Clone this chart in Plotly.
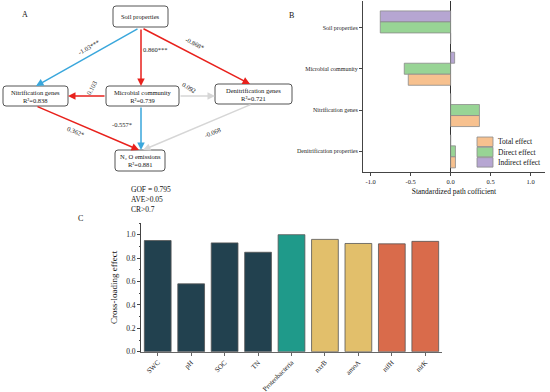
import plotly.graph_objects as go

FONT = "Liberation Serif"

# ---------------- Panel B data ----------------
b_categories = ["Soil properties", "Microbial community", "Nitrification genes", "Denitrification properties"]
b_indirect = [-0.88, 0.05, 0.0, 0.0]
b_direct = [-0.88, -0.58, 0.36, 0.06]
b_total = [0.0, -0.53, 0.36, 0.06]
b_series = ["Indirect effect", "Direct effect", "Total effect"]
b_colors = ["#B6A6D2", "#98D495", "#F7C18F"]

# ---------------- Panel C data ----------------
c_categories = ["SWC", "pH", "SOC", "TN", "Proteobacteria", "nxrB", "amoA", "nifH", "nirK"]
c_values = [0.95, 0.58, 0.93, 0.85, 1.00, 0.96, 0.925, 0.922, 0.943]
c_colors = ["#22414F", "#22414F", "#22414F", "#22414F", "#1F9A8A",
            "#E2BF6B", "#E2BF6B", "#D96B4B", "#D96B4B"]

# ---------------- Panel A (path diagram) ----------------
node_labels = ["Soil properties", "Nitrification genes<br>R²=0.838", "Microbial community<br>R²=0.739",
               "Denitrification genes<br>R²=0.721", "N₂ O emissions<br>R²=0.881"]
# box extents (x0, y0, x1, y1) in diagram units
node_boxes = [(113, 6, 168, 27), (3, 86, 68, 106), (106, 86, 179, 106),
              (215, 84, 292, 104), (115, 150, 165, 171)]
edge_start = [(139, 28), (141, 28), (142, 28), (106, 96), (179, 96), (141, 106), (36, 106), (252, 104)]
edge_end = [(36, 86), (141, 86), (250, 84), (68, 96), (215, 96), (141, 150), (139, 150), (143, 150)]
edge_colors = ["#3AA7DC", "#E8211C", "#E8211C", "#E8211C", "#D6D6D6", "#3AA7DC", "#E8211C", "#D6D6D6"]
edge_labels = ["-1.03***", "0.860***", "-0.868*", "0.103", "0.092", "-0.557*", "0.362*", "-0.068"]
label_pos = [(88, 47), (155, 49), (195, 43), (91, 88), (189, 87), (122, 124), (76, 131), (212, 132)]
label_angle = [-29, 0, 27, -62, 30, 0, 22, -22]
fit_lines = ["GOF = 0.795", "AVE>0.05", "CR>0.7"]

fig = go.Figure()

# Panel B bars (reversed y axis: first trace on top)
for name, vals, col in zip(b_series, [b_indirect, b_direct, b_total], b_colors):
    fig.add_trace(go.Bar(y=b_categories, x=vals, orientation="h", name=name, showlegend=False,
                         marker=dict(color=col, line=dict(color="#8A8A8A", width=0.8)),
                         xaxis="x", yaxis="y", width=0.267))

# Panel C bars
fig.add_trace(go.Bar(x=c_categories, y=c_values, marker=dict(color=c_colors, line=dict(color="#555555", width=0.8)),
                     xaxis="x2", yaxis="y2", width=0.8, showlegend=False))

shapes = []
annotations = []

def rounded(x0, y0, x1, y1, r=3):
    return (f"M {x0+r},{y0} L {x1-r},{y0} Q {x1},{y0} {x1},{y0+r} L {x1},{y1-r} "
            f"Q {x1},{y1} {x1-r},{y1} L {x0+r},{y1} Q {x0},{y1} {x0},{y1-r} "
            f"L {x0},{y0+r} Q {x0},{y0} {x0+r},{y0} Z")

for (x0, y0, x1, y1), lab in zip(node_boxes, node_labels):
    shapes.append(dict(type="path", path=rounded(x0, y0, x1, y1), xref="x3", yref="y3",
                       line=dict(color="#555555", width=1), fillcolor="white", layer="below"))
    annotations.append(dict(x=(x0 + x1) / 2, y=(y0 + y1) / 2, xref="x3", yref="y3", text=lab,
                            showarrow=False, font=dict(family=FONT, size=6.5, color="#111"),
                            align="center"))

for s, e, col in zip(edge_start, edge_end, edge_colors):
    annotations.append(dict(x=e[0], y=e[1], ax=s[0], ay=s[1], xref="x3", yref="y3",
                            axref="x3", ayref="y3", text="", showarrow=True, arrowhead=2,
                            arrowsize=1, arrowwidth=1.5, arrowcolor=col, standoff=0, startstandoff=0))

for lab, (lx, ly), ang in zip(edge_labels, label_pos, label_angle):
    annotations.append(dict(x=lx, y=ly, xref="x3", yref="y3", text=lab, showarrow=False,
                            textangle=ang, font=dict(family=FONT, size=6.5, color="#222")))

annotations.append(dict(x=129, y=183, xref="x3", yref="y3", text="<br>".join(fit_lines), showarrow=False,
                        xanchor="left", yanchor="top", align="left",
                        font=dict(family=FONT, size=7.5, color="#111")))

for t, (lx, ly) in zip(["A", "B", "C"], [(25, 14), (291, 15), (80, 218)]):
    annotations.append(dict(x=lx, y=ly, xref="x3", yref="y3", text=t, showarrow=False,
                            font=dict(family=FONT, size=8, color="#111")))

# custom legend for panel B (top to bottom: Total, Direct, Indirect)
for i, (name, col) in enumerate(zip(b_series[::-1], b_colors[::-1])):
    y0 = 137 + i * 10.3
    shapes.append(dict(type="rect", x0=477, x1=493, y0=y0, y1=y0 + 9.5, xref="x3", yref="y3",
                       fillcolor=col, line=dict(color="#8A8A8A", width=0.8)))
    annotations.append(dict(x=496, y=y0 + 4.8, xref="x3", yref="y3", text=name, showarrow=False,
                            xanchor="left", font=dict(family=FONT, size=7.5, color="#111")))

W, H = 550, 392
axis_font = dict(family=FONT, size=6.5, color="#222")

fig.update_layout(
    width=W, height=H, margin=dict(l=0, r=0, t=0, b=0, autoexpand=False),
    paper_bgcolor="white", plot_bgcolor="rgba(0,0,0,0)",
    barmode="group", bargap=0.2,
    font=dict(family=FONT),
    shapes=shapes, annotations=annotations, showlegend=False,
    xaxis=dict(domain=[363 / W, 545 / W], anchor="y", range=[-1.096, 1.18], automargin=False,
               tickvals=[-1.0, -0.5, 0.0, 0.5, 1.0], ticktext=["-1.0", "-0.5", "0.0", "0.5", "1.0"],
               showline=True, linecolor="#444", linewidth=1, ticks="outside", ticklen=3, tickcolor="#444",
               showgrid=False, zeroline=True, zerolinecolor="#333", zerolinewidth=1,
               tickfont=axis_font,
               title=dict(text="Standardized path cofficient", font=dict(family=FONT, size=7.5, color="#111"),
                          standoff=4)),
    yaxis=dict(domain=[1 - 172 / H, 1 - 1 / H], anchor="x", type="category", automargin=False,
               categoryorder="array", categoryarray=b_categories, range=[3.5, -0.64],
               showline=True, linecolor="#444", linewidth=1, ticks="outside", ticklen=3, tickcolor="#444",
               showgrid=False, tickfont=dict(family=FONT, size=6, color="#222")),
    xaxis2=dict(domain=[141 / W, 442 / W], anchor="y2", type="category", range=[-0.5, 8.5], automargin=False,
                showline=True, linecolor="#666", linewidth=1, ticks="outside", ticklen=3, tickcolor="#666",
                showgrid=False, tickangle=-45, tickfont=dict(family=FONT, size=7, color="#222")),
    yaxis2=dict(domain=[1 - 351.7 / H, 1 - 223 / H], anchor="x2", range=[0, 1.1], automargin=False,
                tickvals=[0, 0.2, 0.4, 0.6, 0.8, 1.0], ticktext=["0.0", "0.2", "0.4", "0.6", "0.8", "1.0"],
                showline=True, linecolor="#444", linewidth=1, ticks="outside", ticklen=3, tickcolor="#444",
                minor=dict(dtick=0.1, ticks="outside", ticklen=1.5, tickcolor="#444"),
                showgrid=False, zeroline=False, tickfont=dict(family=FONT, size=7.5, color="#222"),
                title=dict(text="Cross-loading effect", font=dict(family=FONT, size=9, color="#111"),
                           standoff=6)),
    xaxis3=dict(domain=[0, 1], anchor="y3", range=[0, W], visible=False, fixedrange=True),
    yaxis3=dict(domain=[0, 1], anchor="x3", range=[H, 0], visible=False, fixedrange=True),
)

fig.write_html("out.html", config={"displayModeBar": False},
               post_script="document.body.style.margin='0';document.body.style.overflow='hidden';")
